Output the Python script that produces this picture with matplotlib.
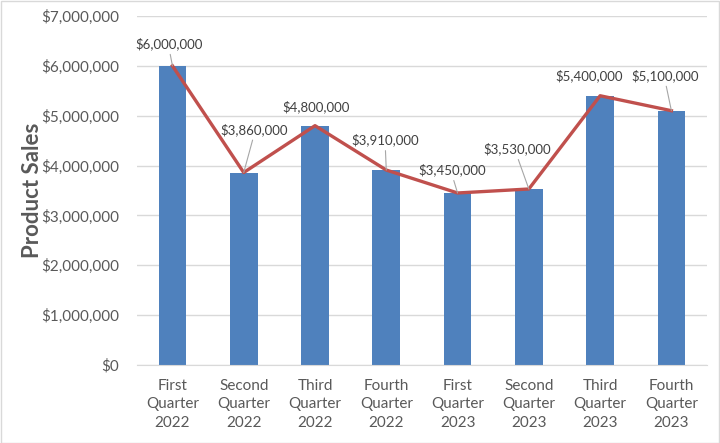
import matplotlib.pyplot as plt
from matplotlib.patches import Rectangle
from matplotlib.ticker import FuncFormatter

quarters = ['First\nQuarter\n2022', 'Second\nQuarter\n2022', 'Third\nQuarter\n2022', 'Fourth\nQuarter\n2022',
            'First\nQuarter\n2023', 'Second\nQuarter\n2023', 'Third\nQuarter\n2023', 'Fourth\nQuarter\n2023']
sales = [6000000, 3860000, 4800000, 3910000, 3450000, 3530000, 5400000, 5100000]

# label offsets in pixels (dx, dy) from the point
label_offsets = [(-3, 22), (10, 43), (1, 19), (-1, 30), (-5, 23), (-12, 40), (-11, 20), (-6, 35)]

plt.rcParams['font.family'] = ['Lato', 'DejaVu Sans']

fig = plt.figure(figsize=(7.2, 4.43), dpi=100)
ax = fig.add_axes([0.19, 0.176, 0.792, 0.788])

x = range(len(sales))
ax.bar(x, sales, width=0.39, color='#4F81BD', zorder=2)
ax.plot(x, sales, color='#C0504D', linewidth=2.4, zorder=3)

for i, v in enumerate(sales):
    dx, dy = label_offsets[i]
    arrow = None
    if dy > 20:
        arrow = dict(arrowstyle='-', color='#A6A6A6', lw=0.8, relpos=(0.5, 0.0), shrinkA=1, shrinkB=0)
    ax.annotate('${:,.0f}'.format(v), xy=(i, v), xytext=(dx, dy), textcoords='offset pixels',
                ha='center', va='center', fontsize=9.5, color='#404040', arrowprops=arrow, zorder=4)

ax.set_ylim(0, 7000000)
ax.set_xlim(-0.5, len(sales) - 0.5)
ax.set_yticks(range(0, 7000001, 1000000))
ax.yaxis.set_major_formatter(FuncFormatter(lambda v, p: '${:,.0f}'.format(v)))
ax.set_xticks(list(x))
ax.set_xticklabels(quarters, linespacing=1.4)
ax.tick_params(axis='both', length=0, labelsize=11, labelcolor='#595959')
ax.tick_params(axis='y', pad=13)
ax.tick_params(axis='x', pad=10)
ax.grid(axis='y', color='#D9D9D9', linewidth=1, zorder=0)
for s in ['top', 'right', 'left']:
    ax.spines[s].set_visible(False)
ax.spines['bottom'].set_color('#D9D9D9')
ax.set_axisbelow(True)

ax.set_ylabel('Product Sales', fontsize=16, fontweight='bold', color='#595959')
ax.yaxis.set_label_coords(-0.165, 0.5)

fig.patches.append(Rectangle((0.001, 0.001), 0.997, 0.996, transform=fig.transFigure,
                             fill=False, edgecolor='#D9D9D9', linewidth=1))

fig.savefig('out.png', dpi=100)
